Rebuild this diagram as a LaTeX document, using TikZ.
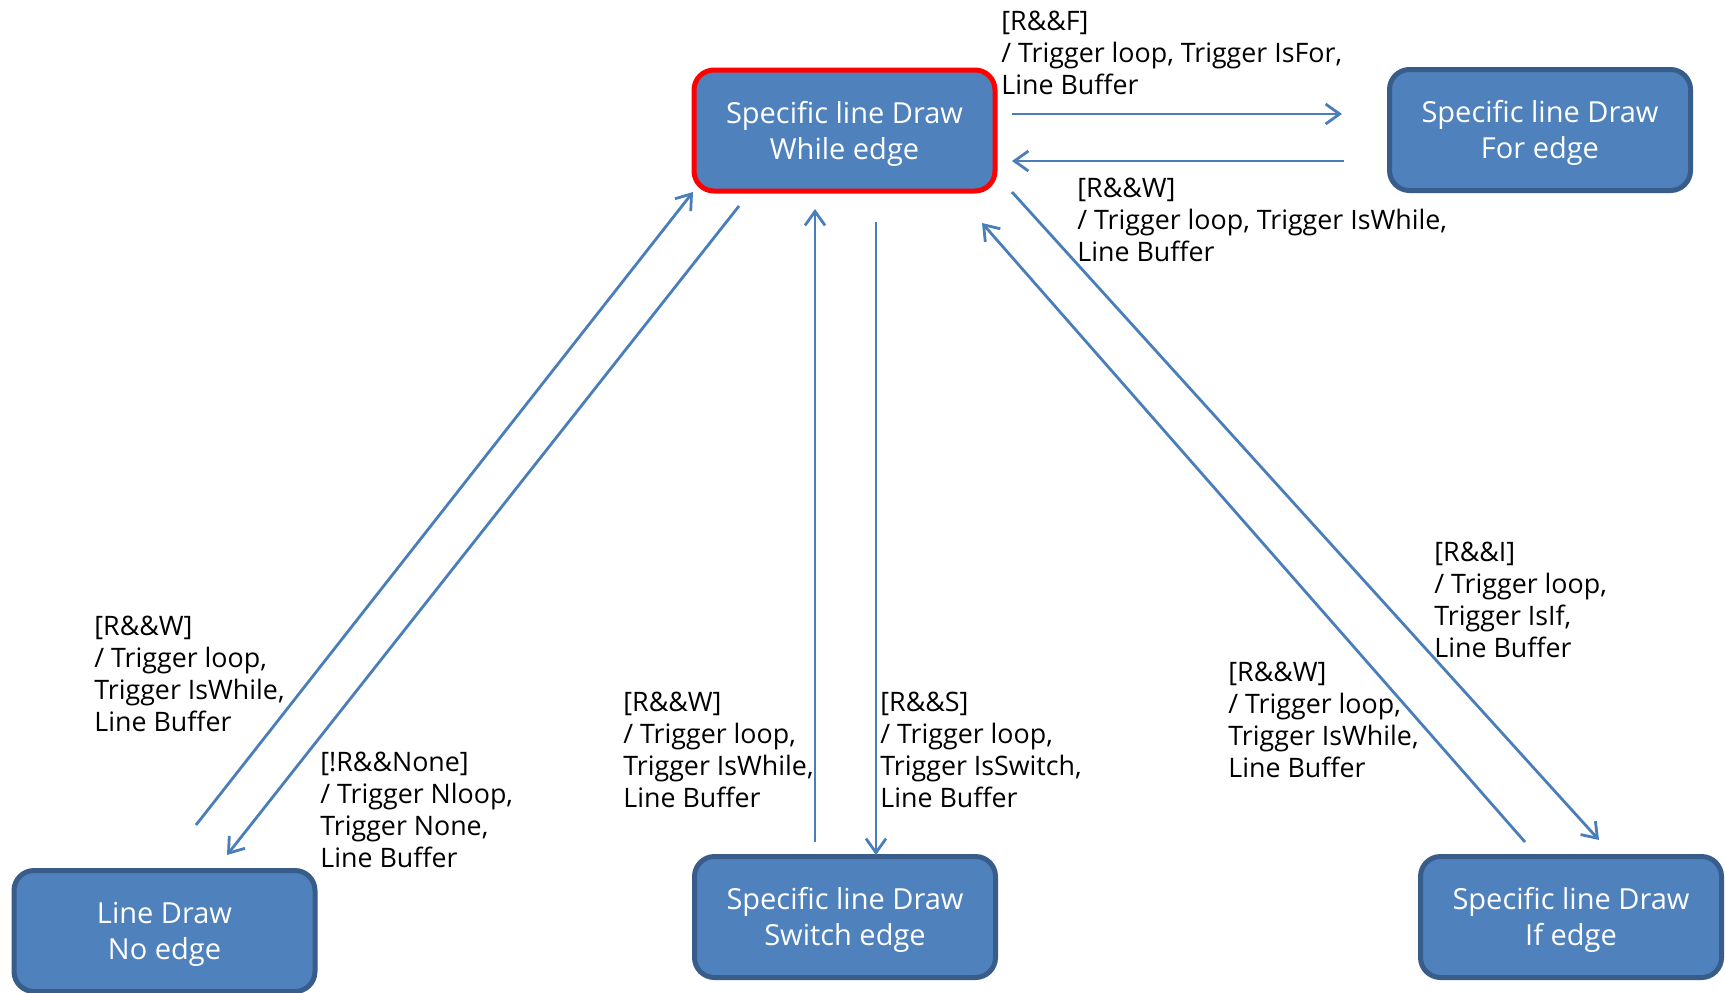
\documentclass[tikz,border=0pt]{standalone}
\usepackage{fontspec}
\setmainfont{Open Sans}
\usetikzlibrary{arrows.meta,calc}
\definecolor{boxfill}{HTML}{4F81BD}
\definecolor{boxline}{HTML}{385D8A}
\definecolor{arrowc}{HTML}{4A7EBB}
\newcommand{\topstrut}{\rule{0pt}{14pt}}
\begin{document}
\begin{tikzpicture}[x=0.5pt,y=-0.5pt,
  state/.style={rectangle,rounded corners=10pt,fill=boxfill,draw=boxline,line width=2.5pt,
    minimum width=150.5pt,minimum height=60.5pt,text=white,align=center,
    font=\fontsize{14.5}{18}\selectfont,inner sep=0pt},
  hot/.style={draw=red,line width=2.5pt},
  lbl/.style={anchor=north west,align=left,inner sep=0pt,font=\fontsize{13.4}{16}\selectfont},
  conn/.style={draw=arrowc,line width=1.4pt,-{Straight Barb[length=7pt,width=10pt]}}]
\useasboundingbox[fill=white] (0,0) rectangle (1725,992);

\node[state,hot] (while) at (844.5,130.5) {\topstrut Specific line Draw\\While edge};
\node[state] (for) at (1540,130) {\topstrut Specific line Draw\\For edge};
\node[state] (noedge) at (164.5,931) {\topstrut Line Draw\\No edge};
\node[state] (switch) at (845,917) {\topstrut Specific line Draw\\Switch edge};
\node[state] (if) at (1571,917) {\topstrut Specific line Draw\\If edge};

\coordinate (a1s) at (1012,114);  \coordinate (a1e) at (1342,114);
\coordinate (a2s) at (1344,161);  \coordinate (a2e) at (1012,161);
\coordinate (a3s) at (196,825);   \coordinate (a3e) at (693,192);
\coordinate (a4s) at (739,206);   \coordinate (a4e) at (227,855);
\coordinate (a5s) at (815,842);   \coordinate (a5e) at (815,209);
\coordinate (a6s) at (876,222);   \coordinate (a6e) at (876,855);
\coordinate (a7s) at (1525,842);  \coordinate (a7e) at (982,223);
\coordinate (a8s) at (1012,192);  \coordinate (a8e) at (1599,840);

\draw[conn] (a1s) -- (a1e);
\draw[conn] (a2s) -- (a2e);
\draw[conn] (a3s) -- (a3e);
\draw[conn] (a4s) -- (a4e);
\draw[conn] (a5s) -- (a5e);
\draw[conn] (a6s) -- (a6e);
\draw[conn] (a7s) -- (a7e);
\draw[conn] (a8s) -- (a8e);

\node[lbl] (l1) at (1001,11) {[R\&\&F]\\/ Trigger loop, Trigger IsFor,\\Line Buffer};
\node[lbl] (l2) at (1077,178) {[R\&\&W]\\/ Trigger loop, Trigger IsWhile,\\Line Buffer};
\node[lbl] (l3) at (94,616) {[R\&\&W]\\/ Trigger loop,\\Trigger IsWhile,\\Line Buffer};
\node[lbl] (l4) at (320,752) {[!R\&\&None]\\/ Trigger Nloop,\\Trigger None,\\Line Buffer};
\node[lbl] (l5) at (623,692) {[R\&\&W]\\/ Trigger loop,\\Trigger IsWhile,\\Line Buffer};
\node[lbl] (l6) at (880,692) {[R\&\&S]\\/ Trigger loop,\\Trigger IsSwitch,\\Line Buffer};
\node[lbl] (l7) at (1434,542) {[R\&\&I]\\/ Trigger loop,\\Trigger IsIf,\\Line Buffer};
\node[lbl] (l8) at (1228,662) {[R\&\&W]\\/ Trigger loop,\\Trigger IsWhile,\\Line Buffer};
\end{tikzpicture}
\end{document}
